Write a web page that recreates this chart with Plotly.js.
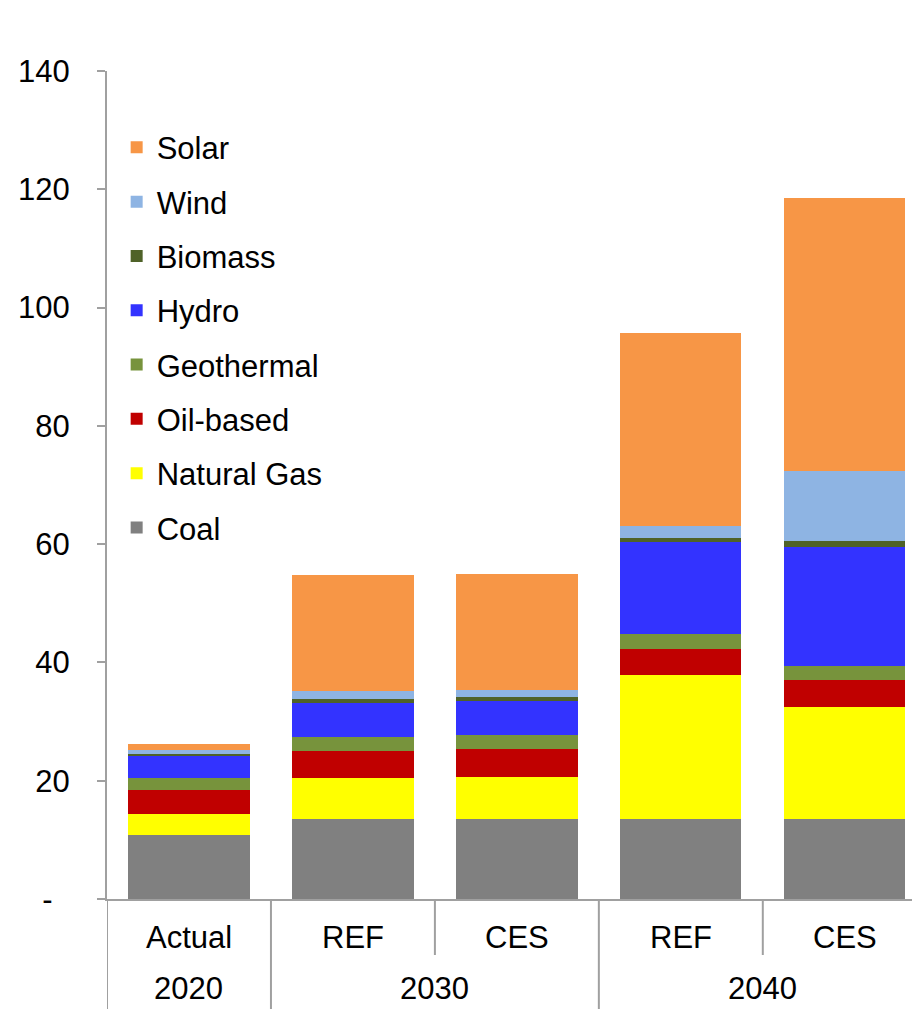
<!DOCTYPE html>
<html>
<head>
<meta charset="utf-8">
<script src="https://cdn.plot.ly/plotly-3.0.1.min.js"></script>
<style>html,body{margin:0;padding:0;background:#fff;}#chart{width:912px;height:1009px;}</style>
</head>
<body>
<div id="chart"></div>
<script>
// Category labels
const scenarios = ["Actual", "REF", "CES", "REF", "CES"];
const years = ["2020", "2030", "2040"];
const yearCenters = [0, 1.5, 3.5];
const positions = [0, 1, 2, 3, 4];

// Series values (stack order bottom -> top)
const coal       = [10.8, 13.5, 13.5, 13.5, 13.5];
const naturalGas = [3.5, 7.0, 7.2, 24.3, 18.9];
const oilBased   = [4.2, 4.6, 4.6, 4.5, 4.6];
const geothermal = [1.9, 2.3, 2.4, 2.5, 2.4];
const hydro      = [3.8, 5.8, 5.7, 15.5, 20.2];
const biomass    = [0.4, 0.7, 0.7, 0.7, 0.9];
const wind       = [0.6, 1.2, 1.2, 2.0, 11.8];
const solar      = [1.0, 19.6, 19.6, 32.7, 46.3];

const seriesNames = ["Coal", "Natural Gas", "Oil-based", "Geothermal", "Hydro", "Biomass", "Wind", "Solar"];
const seriesData = [coal, naturalGas, oilBased, geothermal, hydro, biomass, wind, solar];
const seriesColors = ["#808080", "#FFFF00", "#C00000", "#77933C", "#3333FF", "#4F6228", "#8EB4E3", "#F79646"];

const yTickVals = [0, 20, 40, 60, 80, 100, 120, 140];
const yTickText = ["-\u00a0\u00a0", "20", "40", "60", "80", "100", "120", "140"];

const FONT = "Liberation Sans, Arial, sans-serif";
const FS = 31;
const AXIS_COLOR = "#A0A0A0";

const traces = seriesNames.map((name, i) => ({
  type: "bar",
  name: name,
  x: positions,
  y: seriesData[i],
  width: 0.74,
  legendgroup: name,
  legendrank: seriesNames.length - i,
  marker: { color: seriesColors[i], line: { width: 0 } },
  hoverinfo: "name+y"
}));

// Dividers under the x axis
const plotH = 828;
const longBottom = -110 / plotH;
const shortBottom = -56 / plotH;
const dividers = [
  { x: -0.5, y1: longBottom },
  { x: 0.5, y1: longBottom },
  { x: 1.5, y1: shortBottom },
  { x: 2.5, y1: longBottom },
  { x: 3.5, y1: shortBottom }
];
const shapes = dividers.map(d => ({
  type: "line", xref: "x", yref: "paper",
  x0: d.x, x1: d.x, y0: 0, y1: d.y1,
  line: { color: AXIS_COLOR, width: 2 }
}));

const annotations = [];
scenarios.forEach((s, i) => annotations.push({
  x: positions[i], xref: "x", y: -38 / plotH, yref: "paper",
  text: s, showarrow: false, xanchor: "center", yanchor: "middle",
  font: { family: FONT, size: FS, color: "#000" }
}));
years.forEach((yr, i) => annotations.push({
  x: yearCenters[i], xref: "x", y: -108 / plotH, yref: "paper",
  text: yr, showarrow: false, xanchor: "center", yanchor: "bottom",
  borderpad: 0,
  font: { family: FONT, size: FS, color: "#000" }
}));

const layout = {
  width: 912, height: 1009,
  margin: { l: 106.5, r: 0, t: 71, b: 110, pad: 0 },
  paper_bgcolor: "#fff", plot_bgcolor: "#fff",
  barmode: "stack",
  showlegend: true,
  legend: {
    x: 0.012, y: 0.94, xanchor: "left", yanchor: "top",
    traceorder: "grouped",
    tracegroupgap: 11,
    font: { family: FONT, size: FS, color: "#000" },
    bgcolor: "rgba(0,0,0,0)"
  },
  xaxis: {
    type: "linear",
    range: [-0.5, 4.41],
    showticklabels: false,
    ticks: "",
    showgrid: false, zeroline: false,
    showline: true, linecolor: AXIS_COLOR, linewidth: 2,
    fixedrange: true
  },
  yaxis: {
    range: [0, 140],
    tickvals: yTickVals, ticktext: yTickText,
    ticks: "outside", ticklen: 8, tickwidth: 2, tickcolor: AXIS_COLOR,
    ticklabelstandoff: 21,
    showgrid: false, zeroline: false,
    showline: true, linecolor: AXIS_COLOR, linewidth: 2,
    tickfont: { family: FONT, size: FS, color: "#000" },
    fixedrange: true
  },
  shapes: shapes,
  annotations: annotations
};

Plotly.newPlot("chart", traces, layout, { displayModeBar: false, staticPlot: true });
</script>
</body>
</html>
